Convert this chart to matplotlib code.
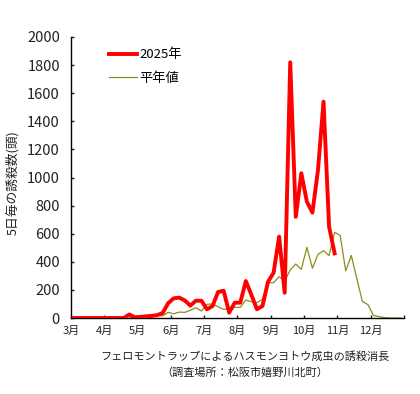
import numpy as np
import matplotlib
matplotlib.use("Agg")
import matplotlib.pyplot as plt

plt.rcParams['font.family'] = ['Noto Sans CJK JP', 'DejaVu Sans']

# =========================
# DATA (5-day periods, Mar 1 - Dec 31)
# =========================
months = ["3月", "4月", "5月", "6月", "7月", "8月", "9月", "10月", "11月", "12月"]

y2025 = [0, 0, 0, 0, 0, 0, 0, 0, 0, 0,
         25, 5, 8, 12, 15, 20, 35, 105, 140, 145,
         125, 88, 123, 123, 62, 85, 185, 194, 38, 109,
         109, 263, 165, 62, 85, 258, 322, 579, 180, 1820,
         720, 1030, 828, 750, 1053, 1540, 650, 460]

normal = [np.nan] * 6 + [
          0, 0, 0, 0, 0, 0,
          0, 2, 5, 20, 15, 40, 30, 42, 40, 55,
          73, 50, 97, 100, 80, 62, 65, 76, 76, 128,
          116, 109, 133, 251, 251, 294, 263, 342, 384, 346,
          503, 354, 453, 479, 445, 610, 588, 335, 445, 280,
          118, 95, 18, 10, 3, 0, 0, 0]

x2025 = np.arange(len(y2025)) + 0.5
xnorm = np.arange(len(normal)) + 0.5

# =========================
# PLOT
# =========================
fig = plt.figure(figsize=(4.2, 3.94), dpi=100)
ax = fig.add_axes([71 / 420, 1 - 318 / 394, 333 / 420, 281 / 394])

ax.plot(xnorm, normal, color="#8c8c1a", lw=0.9, label="平年値", zorder=2)
ax.plot(x2025, y2025, color="#ff0000", lw=2.8, label="2025年", zorder=3)

ax.set_xlim(0, 60)
ax.set_ylim(0, 2000)
ax.set_yticks(np.arange(0, 2001, 200))
ax.set_xticks(np.arange(0, 61, 6))
ax.set_xticklabels(months + [""])

for s in ["top", "right"]:
    ax.spines[s].set_visible(False)
ax.spines["left"].set_linewidth(1.0)
ax.spines["bottom"].set_linewidth(1.0)
ax.tick_params(axis="both", direction="in", length=2.5, width=1.0, colors="#222222")
ax.tick_params(axis="y", labelsize=10.5, pad=8)
ax.tick_params(axis="x", labelsize=8, pad=6)

h, l = ax.get_legend_handles_labels()
ax.legend(h[::-1], l[::-1], loc="upper left", bbox_to_anchor=(0.114, 0.96),
          frameon=False, fontsize=9.5, handlelength=2.1, handletextpad=0.2,
          labelspacing=0.8, borderaxespad=0, borderpad=0)

fig.text(12 / 420, 1 - 183 / 394, "5日毎の誘殺数(頭)", rotation=90,
         ha="center", va="center", fontsize=9.2, color="#222222")
fig.text(245 / 420, 1 - 356 / 394, "フェロモントラップによるハスモンヨトウ成虫の誘殺消長",
         ha="center", va="center", fontsize=8, color="#222222")
fig.text(245 / 420, 1 - 373 / 394, "（調査場所：松阪市嬉野川北町）",
         ha="center", va="center", fontsize=8, color="#222222")

fig.savefig("out.png", dpi=100)
